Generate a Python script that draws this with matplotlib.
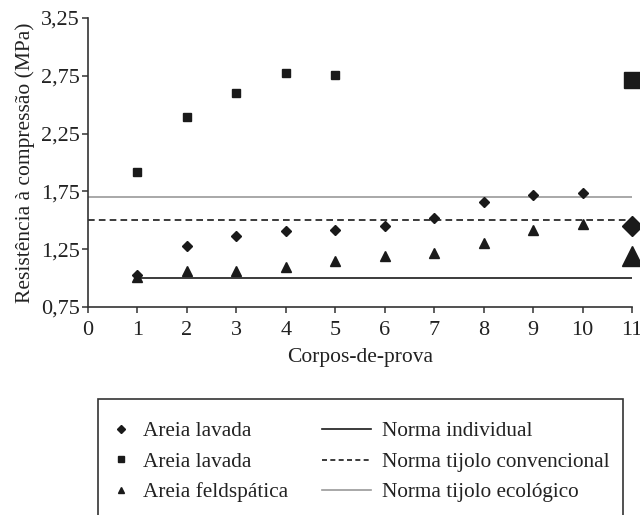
import matplotlib
matplotlib.use('Agg')
import matplotlib.pyplot as plt
from matplotlib.lines import Line2D
from matplotlib.patches import Rectangle

plt.rcParams['font.family'] = ['Liberation Serif', 'DejaVu Serif']

# Data
corpos = [1, 2, 3, 4, 5, 6, 7, 8, 9, 10]
lavada_diamante = [1.03, 1.28, 1.36, 1.41, 1.42, 1.45, 1.52, 1.66, 1.72, 1.74]
lavada_quadrado = [1.92, 2.39, 2.60, 2.77, 2.76]
feldspatica = [1.01, 1.06, 1.06, 1.10, 1.15, 1.19, 1.22, 1.30, 1.42, 1.47]

# means shown as big markers at x = 11
x_media = 11
media_diamante = 1.45
media_quadrado = 2.71
media_feldspatica = 1.19

# reference lines
norma_individual = 1.0
norma_convencional = 1.5
norma_ecologico = 1.7

y_ticks = [0.75, 1.25, 1.75, 2.25, 2.75, 3.25]
y_labels = ['0,75', '1,25', '1,75', '2,25', '2,75', '3,25']
x_ticks = list(range(0, 12))

cor = '#1a1a1a'
cinza = '#9a9a9a'

fig = plt.figure(figsize=(6.4, 5.15), dpi=100)
ax = fig.add_axes([88 / 640, 1 - 307 / 515, 544 / 640, 289 / 515])

# norm lines
ax.plot([1, 11], [norma_individual] * 2, color=cor, lw=1.2)
ax.plot([0, 11], [norma_convencional] * 2, color=cor, lw=1.2, ls=(0, (4, 2.5)))
ax.plot([0, 11], [norma_ecologico] * 2, color=cinza, lw=1.2)

# series
ax.plot(corpos, lavada_diamante, 'D', color=cor, ms=5.5, clip_on=False)
ax.plot(corpos[:len(lavada_quadrado)], lavada_quadrado, 's', color=cor, ms=5.5, clip_on=False)
ax.plot(corpos, feldspatica, '^', color=cor, ms=7, clip_on=False)

ax.plot([x_media], [media_diamante], 'D', color=cor, ms=10.5, clip_on=False)
ax.plot([x_media], [media_quadrado], 's', color=cor, ms=11.5, clip_on=False)
ax.plot([x_media], [media_feldspatica], '^', color=cor, ms=14, clip_on=False)

ax.set_xlim(0, 11)
ax.set_ylim(0.75, 3.25)
ax.set_xticks(x_ticks)
ax.set_yticks(y_ticks)
ax.set_yticklabels(y_labels)

for s in ['top', 'right']:
    ax.spines[s].set_visible(False)
for s in ['left', 'bottom']:
    ax.spines[s].set_color('#333333')
    ax.spines[s].set_linewidth(1.2)
ax.tick_params(direction='out', length=4, width=1.1, color='#333333',
               labelsize=16, labelcolor='#222222')
ax.tick_params(axis='x', pad=6)
ax.tick_params(axis='y', pad=2)

ax.set_xlabel('Corpos-de-prova', fontsize=15.5, color='#222222', labelpad=6)
ax.set_ylabel('Resistência à compressão (MPa)', fontsize=15.5, color='#222222', labelpad=4)

# legend: two columns inside a single box
h1 = [Line2D([], [], ls='none', marker='D', color=cor, ms=4),
      Line2D([], [], ls='none', marker='s', color=cor, ms=4.5),
      Line2D([], [], ls='none', marker='^', color=cor, ms=5)]
l1 = ['Areia lavada', 'Areia lavada', 'Areia feldspática']
h2 = [Line2D([], [], color=cor, lw=1.2),
      Line2D([], [], color=cor, lw=1.2, ls=(0, (3, 2))),
      Line2D([], [], color=cinza, lw=1.2)]
l2 = ['Norma individual', 'Norma tijolo convencional', 'Norma tijolo ecológico']

leg1 = fig.legend(h1, l1, loc='center left', bbox_to_anchor=(110 / 640, 1 - 462 / 515),
                  frameon=False, fontsize=15.3, handlelength=1.0, handletextpad=0.55,
                  labelspacing=0.5, borderpad=0, borderaxespad=0)
leg2 = fig.legend(h2, l2, loc='center left', bbox_to_anchor=(322 / 640, 1 - 462 / 515),
                  frameon=False, fontsize=15.3, handlelength=2.3, handletextpad=0.5,
                  labelspacing=0.5, borderpad=0, borderaxespad=0)
for t in leg1.get_texts() + leg2.get_texts():
    t.set_color('#222222')

fig.patches.append(Rectangle((98 / 640, -0.05), 525 / 640, (515 - 399) / 515 + 0.05,
                             transform=fig.transFigure, fill=False,
                             edgecolor='#333333', lw=1.2))

fig.savefig('out.png', dpi=100)
